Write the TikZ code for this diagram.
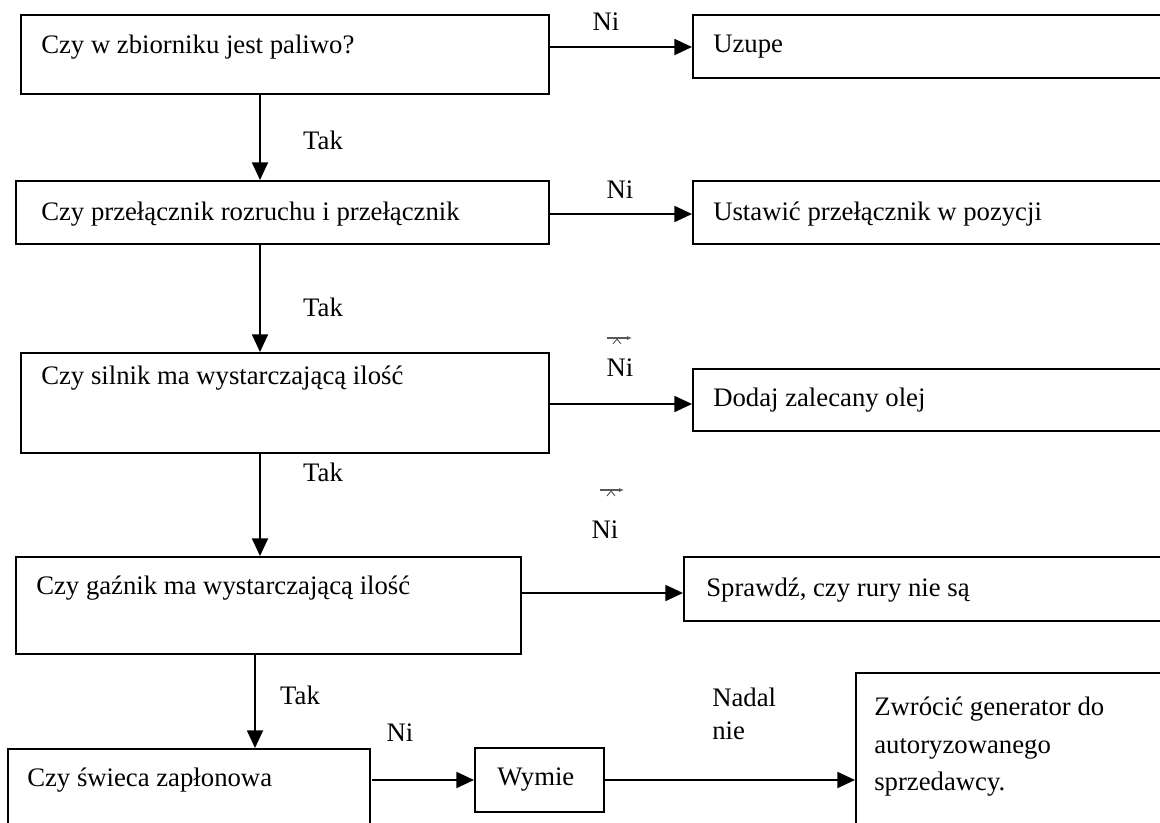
\documentclass[tikz,border=0pt]{standalone}
\usepackage{fontspec}
\setmainfont{Liberation Serif}
\usetikzlibrary{arrows.meta}
\tikzset{
  box/.style={draw, line width=1.3pt, rectangle, inner sep=0pt, anchor=north west},
  txt/.style={inner sep=0pt, anchor=west, font=\fontsize{19}{27}\selectfont},
  arr/.style={line width=1.3pt, -{Triangle[length=4.4mm, width=4mm]}},
  stray/.style={line width=0.8pt, gray!70!black, -{Latex[length=1.2mm,width=1mm]}},
  strayx/.style={line width=0.6pt, gray!60!black},
}
\begin{document}
\begin{tikzpicture}[x=0.025cm, y=-0.025cm]
\useasboundingbox (0,0) rectangle (1160,823);
\clip (0,0) rectangle (1160,823);
% left column boxes
\node[box, minimum width=528*0.025cm, minimum height=79*0.025cm] (b1) at (20,14) {};
\node[box, minimum width=533*0.025cm, minimum height=63*0.025cm] (b2) at (15,180) {};
\node[box, minimum width=528*0.025cm, minimum height=100*0.025cm] (b3) at (20,352) {};
\node[box, minimum width=505*0.025cm, minimum height=97*0.025cm] (b4) at (15,556) {};
\node[box, minimum width=362*0.025cm, minimum height=90*0.025cm] (b5) at (7,748) {};
% right column boxes
\node[box, minimum width=480*0.025cm, minimum height=63*0.025cm] (r1) at (692,14) {};
\node[box, minimum width=480*0.025cm, minimum height=63*0.025cm] (r2) at (692,180) {};
\node[box, minimum width=480*0.025cm, minimum height=62*0.025cm] (r3) at (692,368) {};
\node[box, minimum width=490*0.025cm, minimum height=64*0.025cm] (r4) at (683,556) {};
\node[box, minimum width=129*0.025cm, minimum height=64*0.025cm] (w5) at (474,747) {};
\node[box, minimum width=315*0.025cm, minimum height=170*0.025cm] (z5) at (855,672) {};
% texts
\node[txt] (t1) at (41,47) {Czy w zbiorniku jest paliwo?};
\node[txt] (t2) at (41,214) {Czy przełącznik rozruchu i przełącznik};
\node[txt] (t3) at (41,378) {Czy silnik ma wystarczającą ilość};
\node[txt] (t4) at (36,588) {Czy gaźnik ma wystarczającą ilość};
\node[txt] (t5) at (27,780) {Czy świeca zapłonowa};
\node[txt] (u1) at (713,47) {Uzupe};
\node[txt] (u2) at (713,214) {Ustawić przełącznik w pozycji};
\node[txt] (u3) at (713,400) {Dodaj zalecany olej};
\node[txt] (u4) at (706,590) {Sprawdź, czy rury nie są};
\node[txt] (u5) at (497,780) {Wymie};
\node[txt, align=left, font=\fontsize{19}{26.5}\selectfont, anchor=north west] (z5t) at (874,697) {Zwrócić generator do\\autoryzowanego\\sprzedawcy.};
% labels
\node[txt, anchor=center] (n1) at (606,22) {Ni};
\node[txt, anchor=center] (n2) at (620,190) {Ni};
\node[txt, anchor=center] (n3) at (620,368) {Ni};
\node[txt, anchor=center] (n4) at (605,530) {Ni};
\node[txt, anchor=center] (n5) at (400,733) {Ni};
\node[txt, anchor=center] (k1) at (323,140) {Tak};
\node[txt, anchor=center] (k2) at (323,307) {Tak};
\node[txt, anchor=center] (k3) at (323,472) {Tak};
\node[txt, anchor=center] (k4) at (300,695) {Tak};
\node[txt, align=left, font=\fontsize{19}{23}\selectfont, anchor=north west] (nn) at (712,688) {Nadal\\nie};
% guide coordinates
\coordinate (va) at (260,0);
\coordinate (vb) at (255,0);
\coordinate (h1) at (0,47);
\coordinate (h2) at (0,214);
\coordinate (h3) at (0,404);
\coordinate (h4) at (0,593);
\coordinate (h5) at (0,780);
% vertical connectors
\draw[arr] (b1.south -| va) -- (b2.north -| va);
\draw[arr] (b2.south -| va) -- (b3.north -| va);
\draw[arr] (b3.south -| va) -- (b4.north -| va);
\draw[arr] (b4.south -| vb) -- (b5.north -| vb);
% horizontal connectors
\draw[arr] (b1.east |- h1) -- (r1.west |- h1);
\draw[arr] (b2.east |- h2) -- (r2.west |- h2);
\draw[arr] (b3.east |- h3) -- (r3.west |- h3);
\draw[arr] (b4.east |- h4) -- (r4.west |- h4);
\coordinate (s5) at (372,780);
\draw[arr] (s5) -- (w5.west |- h5);
\draw[arr] (w5.east |- h5) -- (z5.west |- h5);
% small stray marks
\coordinate (m1a) at (607,338);
\coordinate (m1b) at (632,338);
\draw[stray] (m1a) -- (m1b);
\draw[strayx] (613,344) -- (617,339) -- (621,344);
\coordinate (m2a) at (600,490);
\coordinate (m2b) at (624,490);
\draw[stray] (m2a) -- (m2b);
\draw[strayx] (607,496) -- (611,491) -- (615,496);
\end{tikzpicture}
\end{document}
